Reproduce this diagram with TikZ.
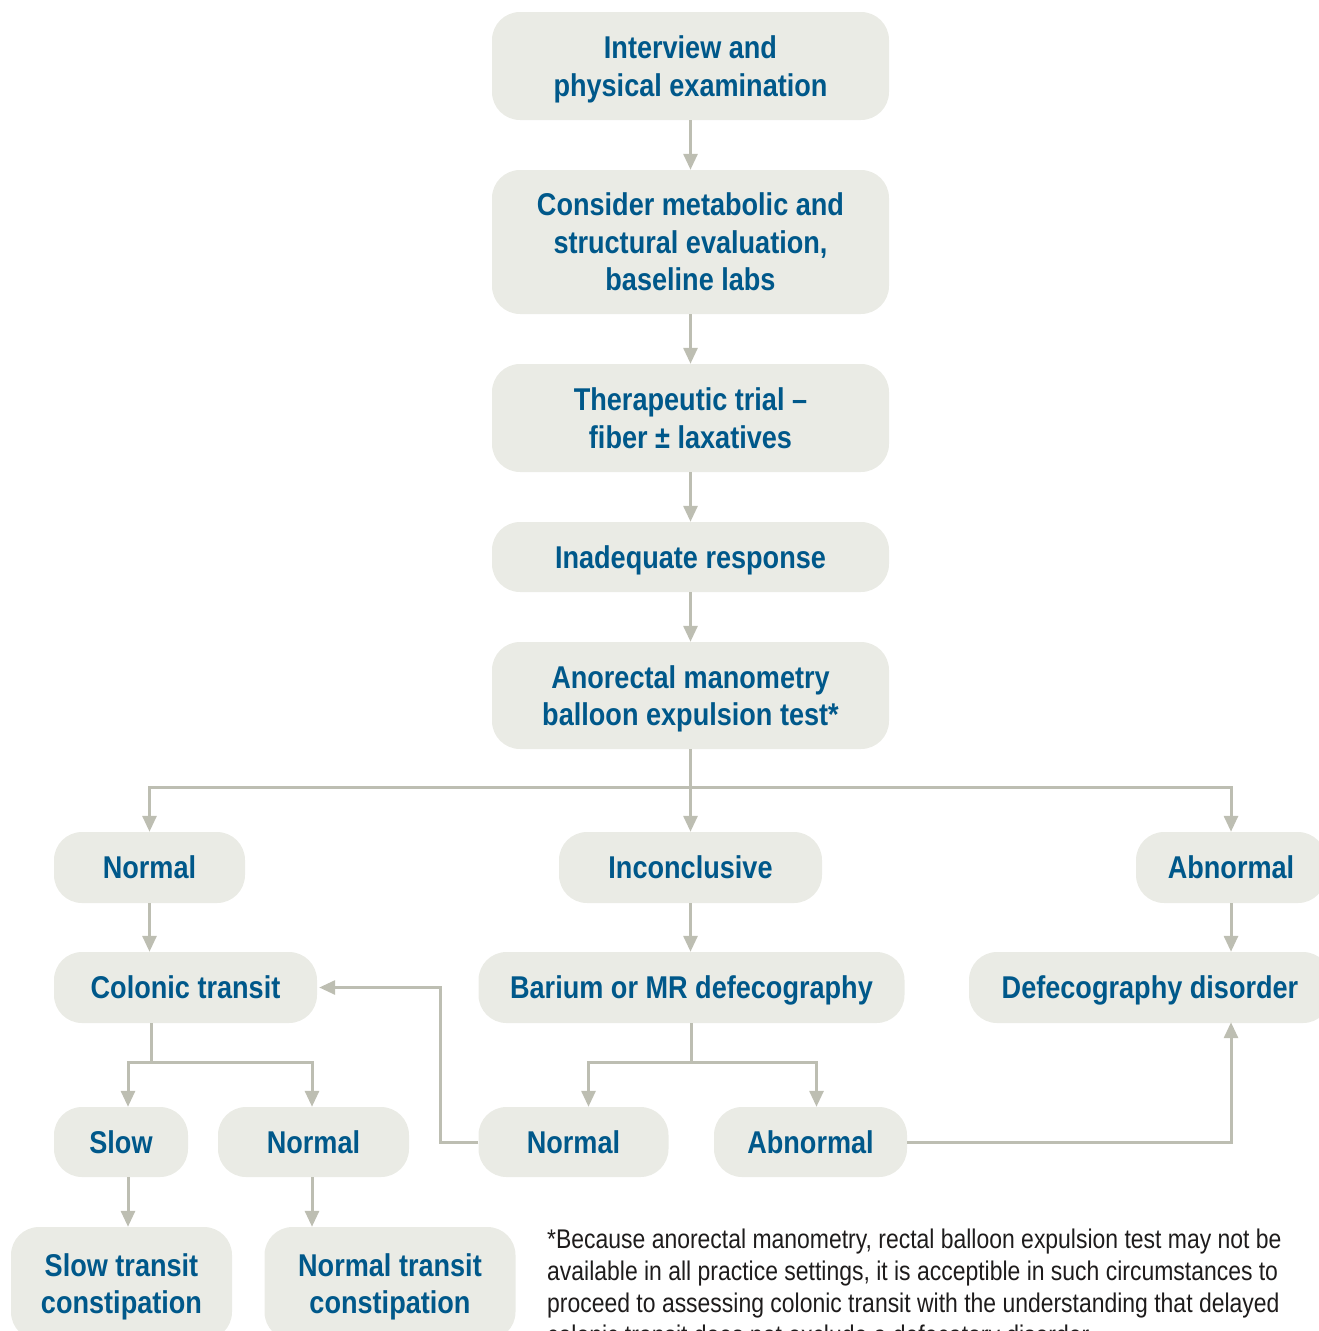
\documentclass[tikz,border=0pt]{standalone}
\usepackage{fontspec}
\setmainfont{Liberation Sans}[FakeStretch=0.86]
\newfontfamily\notefont{Liberation Sans}[FakeStretch=0.85]
\usetikzlibrary{arrows.meta}
\definecolor{boxfill}{RGB}{234,235,229}
\definecolor{textblue}{RGB}{0,88,138}
\definecolor{linegray}{RGB}{189,190,178}
\definecolor{notegray}{RGB}{30,28,28}
\tikzset{
  box/.style={shape=rectangle, fill=boxfill, rounded corners=28pt, inner sep=0pt,
    align=center, text=textblue, font=\fontsize{31.5}{37.5}\selectfont\bfseries,
    text height=22.5pt, text depth=0pt},
  twoline/.style={text height=60pt, text depth=0pt},
  threeline/.style={text height=97.5pt, text depth=0pt},
  conn/.style={draw=linegray, line width=3pt},
  arr/.style={conn, -{Triangle[width=14pt,length=16pt]}},
}
\begin{document}
\begin{tikzpicture}[x=1pt,y=-1pt]
\useasboundingbox (0,0) rectangle (1319,1331);
% main column
\node[box, twoline, minimum width=397pt, minimum height=108pt] (interview) at (690.5,66) {Interview and\\physical examination};
\node[box, threeline, minimum width=397pt, minimum height=144pt] (consider) at (690.5,242) {Consider metabolic and\\structural evaluation,\\baseline labs};
\node[box, twoline, minimum width=397pt, minimum height=108pt] (therapeutic) at (690.5,418) {Therapeutic trial --\\fiber \char"00B1{} laxatives};
\node[box, minimum width=397pt, minimum height=70pt] (inadequate) at (690.5,557) {Inadequate response};
\node[box, twoline, minimum width=397pt, minimum height=107pt] (anorectal) at (690.5,695.5) {Anorectal manometry\\balloon expulsion test*};
% second row
\node[box, minimum width=191pt, minimum height=71pt] (normalA) at (149.5,867.5) {Normal};
\node[box, minimum width=263pt, minimum height=71pt] (inconclusive) at (690.5,867.5) {Inconclusive};
\node[box, minimum width=190pt, minimum height=71pt] (abnormalA) at (1231,867.5) {Abnormal};
% third row
\node[box, minimum width=263pt, minimum height=71pt] (colonic) at (185.5,987.5) {Colonic transit};
\node[box, minimum width=426pt, minimum height=71pt] (barium) at (691.5,987.5) {Barium or MR defecography};
\node[box, minimum width=362pt, minimum height=71pt] (defeco) at (1150,987.5) {Defecography disorder};
% fourth row
\node[box, minimum width=134pt, minimum height=70pt] (slow) at (121,1142) {Slow};
\node[box, minimum width=191pt, minimum height=70pt] (normalB) at (313.5,1142) {Normal};
\node[box, minimum width=190pt, minimum height=70pt] (normalC) at (573.5,1142) {Normal};
\node[box, minimum width=193pt, minimum height=70pt] (abnormalB) at (810.5,1142) {Abnormal};
% fifth row
\node[box, twoline, minimum width=221pt, minimum height=113pt] (slowtc) at (121.5,1283.5) {Slow transit\\constipation};
\node[box, twoline, minimum width=251pt, minimum height=113pt] (normaltc) at (390,1283.5) {Normal transit\\constipation};
% footnote
\node[anchor=base west, inner sep=0pt, align=left, text=notegray,
  font=\notefont\fontsize{27}{32}\selectfont] (note) at (547,1344)
  {*Because anorectal manometry, rectal balloon expulsion test may not be\\
   available in all practice settings, it is acceptible in such circumstances to\\
   proceed to assessing colonic transit with the understanding that delayed\\
   colonic transit does not exclude a defecatory disorder.};
% connectors
\draw[arr] (interview) -- (consider);
\draw[arr] (consider) -- (therapeutic);
\draw[arr] (therapeutic) -- (inadequate);
\draw[arr] (inadequate) -- (anorectal);
\coordinate (split) at (690.5,787);
\draw[arr] (anorectal) -- (inconclusive);
\draw[arr] (split) -| (normalA.north);
\draw[arr] (split) -| (abnormalA.north);
\draw[arr] (normalA.south) -- (normalA.south |- colonic.north);
\draw[arr] (inconclusive.south) -- (inconclusive.south |- barium.north);
\draw[arr] (abnormalA.south) -- (abnormalA.south |- defeco.north);
% colonic split
\coordinate (csplit) at (151,1062);
\draw[conn] (colonic.south -| csplit) -- (csplit);
\draw[arr] (csplit) -| ([xshift=7pt]slow.north);
\draw[arr] (csplit) -| ([xshift=-1.5pt]normalB.north);
% barium split
\coordinate (bsplit) at (691.5,1062);
\draw[conn] (barium.south) -- (bsplit);
\draw[arr] (bsplit) -| ([xshift=15pt]normalC.north);
\draw[arr] (bsplit) -| ([xshift=6pt]abnormalB.north);
% cross links
\draw[arr] (normalC.west) -- ++(-37.5,0) |- ([xshift=2pt]colonic.east);
\draw[arr] (abnormalB.east) -| ([yshift=1pt]abnormalA.south |- defeco.south);
% bottom arrows
\draw[arr] ([xshift=7pt]slow.south) -- ([xshift=7pt]slow.south |- slowtc.north);
\draw[arr] ([xshift=-1.5pt]normalB.south) -- ([xshift=-1.5pt]normalB.south |- normaltc.north);
\end{tikzpicture}
\end{document}
